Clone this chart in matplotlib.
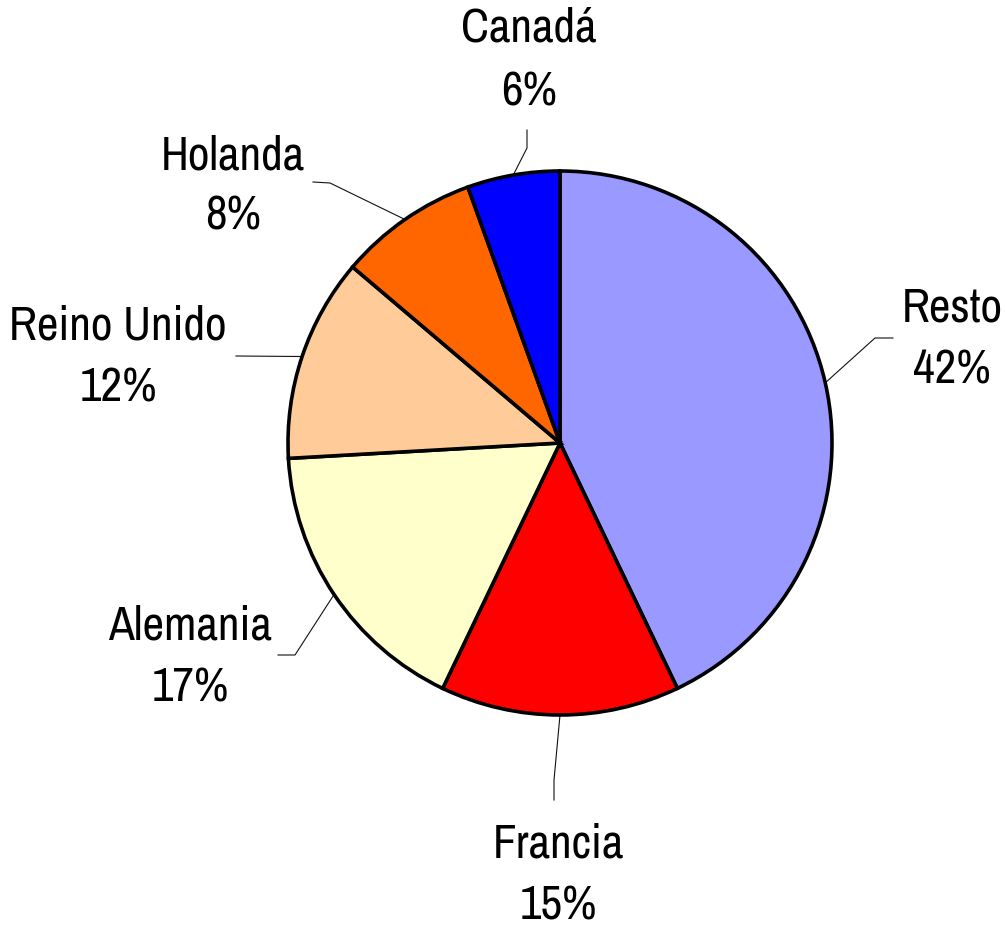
import numpy as np
import matplotlib.pyplot as plt
from matplotlib import font_manager

# Shares (wedge angles); labels as printed on the chart.
countries = ["Resto", "Francia", "Alemania", "Reino Unido", "Holanda", "Canadá"]
shares = [42.9, 14.2, 17.0, 12.1, 8.3, 5.5]
pct_labels = ["42%", "15%", "17%", "12%", "8%", "6%"]
colors = ["#9999FF", "#FF0000", "#FFFFCC", "#FFCC99", "#FF6600", "#0000FF"]

W, H = 1005, 926
CX, CY, R = 560, H - 443, 272

# label centre x, name baseline y, percent baseline y (pixels from top)
LABEL_POS = {
    "Resto": (952, 321, 384),
    "Francia": (558, 857, 919),
    "Alemania": (190, 640, 702),
    "Reino Unido": (118, 340, 402),
    "Holanda": (233, 169, 230),
    "Canadá": (529, 41, 105),
}
# leader line: knee and end point (pixels from top)
LEADERS = {
    "Resto": ((875, 338), (893, 338)),
    "Francia": ((554, 780), (554, 800)),
    "Alemania": ((295, 655), (278, 655)),
    "Reino Unido": ((236, 356), (236, 356)),
    "Holanda": ((330, 183), (313, 182)),
    "Canadá": ((527, 148), (527, 130)),
}

names = {f.name for f in font_manager.fontManager.ttflist}
family = next((f for f in ["Liberation Sans Narrow", "Archivo Narrow"] if f in names),
              "Liberation Sans")

fig = plt.figure(figsize=(W / 100, H / 100), dpi=100)
ax = fig.add_axes([0, 0, 1, 1])

wedges, _ = ax.pie(shares, colors=colors, startangle=90, counterclock=False,
                   center=(CX, CY), radius=R, frame=True,
                   wedgeprops=dict(edgecolor="black", linewidth=2.6))
ax.set_xlim(0, W)
ax.set_ylim(0, H)
ax.set_aspect("equal")
ax.axis("off")

for w, name, pct in zip(wedges, countries, pct_labels):
    mid = np.deg2rad((w.theta1 + w.theta2) / 2)
    ex, ey = CX + R * np.cos(mid), CY + R * np.sin(mid)
    (kx, ky), (lx, ly) = LEADERS[name]
    ax.plot([ex, kx, lx], [ey, H - ky, H - ly], color="#111111", lw=0.8,
            zorder=0.5)
    tx, by1, by2 = LABEL_POS[name]
    ax.text(tx, H - by1, name, ha="center", va="baseline", fontsize=34,
            family=family)
    ax.text(tx, H - by2, pct, ha="center", va="baseline", fontsize=34,
            family=family)

fig.savefig("out.png", dpi=100, facecolor="white")
